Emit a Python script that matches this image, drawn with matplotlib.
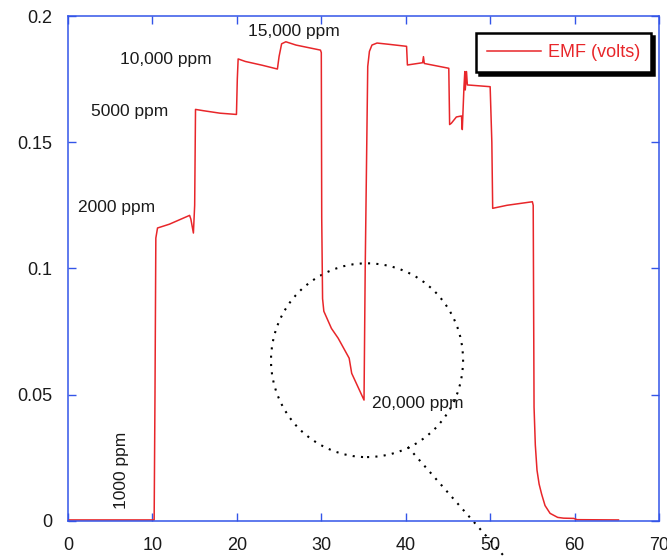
import matplotlib
matplotlib.use("Agg")
import matplotlib.pyplot as plt
from matplotlib.patches import Ellipse
from matplotlib.lines import Line2D

plt.rcParams['font.family'] = ['Liberation Sans', 'DejaVu Sans']

# EMF trace (time in minutes, EMF in volts)
time_min = [0, 10.2, 10.3, 10.4, 10.6, 12, 14.4, 14.55, 14.85, 15.0, 15.1,
            16, 18, 19.95, 20.05, 20.15, 21, 23, 24.8, 25.0, 25.3, 25.8,
            27, 29.9, 30.0, 30.05, 30.15, 30.3, 31.2, 32.0, 33.3, 33.6,
            35.06, 35.2, 35.5, 35.7, 36.0, 36.6, 38, 40.1, 40.2, 42.0,
            42.1, 42.2, 45.1, 45.2, 45.4, 46.0, 46.6, 46.7, 46.9, 47.0,
            47.05, 47.2, 47.3, 50.0, 50.2, 50.3, 52, 55.0, 55.1, 55.2,
            55.35, 55.55, 55.8, 56.1, 56.5, 57.1, 58.0, 58.7, 59.9, 60.3,
            65.2]
emf_volts = [0.0003, 0.0003, 0.05, 0.112, 0.116, 0.1175, 0.121, 0.1195,
             0.114, 0.125, 0.163, 0.1625, 0.1615, 0.161, 0.175, 0.183,
             0.182, 0.1805, 0.179, 0.184, 0.189, 0.1898, 0.1885, 0.1865,
             0.1855, 0.12, 0.088, 0.083, 0.0762, 0.0723, 0.0644, 0.0584,
             0.0478, 0.10, 0.18, 0.186, 0.1885, 0.1893, 0.1888, 0.188,
             0.1806, 0.1815, 0.1839, 0.1812, 0.1793, 0.157, 0.1575, 0.160,
             0.1604, 0.155, 0.172, 0.178, 0.1707, 0.178, 0.1727, 0.172,
             0.150, 0.1238, 0.125, 0.1264, 0.125, 0.045, 0.03, 0.02,
             0.0145, 0.0105, 0.006, 0.0029, 0.0013, 0.001, 0.0009, 0.0004,
             0.0003]

# concentration labels: text, x, y, rotation
conc_labels = ['1000 ppm', '2000 ppm', '5000 ppm', '10,000 ppm',
               '15,000 ppm', '20,000 ppm']
label_x = [6.36, 5.8, 7.34, 11.6, 26.8, 41.45]
label_y = [0.0201, 0.1243, 0.162, 0.1826, 0.1937, 0.0466]
label_rot = [90, 0, 0, 0, 0, 0]

x_ticks = [0, 10, 20, 30, 40, 50, 60, 70]
y_ticks = [0, 0.05, 0.1, 0.15, 0.2]
y_tick_labels = ['0', '0.05', '0.1', '0.15', '0.2']

blue = '#3355e8'
red = '#e8262a'

fig = plt.figure(figsize=(6.67, 5.57), dpi=100)
ax = fig.add_axes([0.102, 0.0652, 0.886, 0.906])

ax.plot(time_min, emf_volts, color=red, lw=1.1, label='EMF (volts)')

for txt, x, y, rot in zip(conc_labels, label_x, label_y, label_rot):
    ax.text(x, y, txt, fontsize=12.5, color='#1a1a1a', ha='center',
            va='center', rotation=rot)

ax.set_xlim(0, 70)
ax.set_ylim(0, 0.2)
ax.set_xticks(x_ticks)
ax.set_xticklabels([str(t) for t in x_ticks])
ax.set_yticks(y_ticks)
ax.set_yticklabels(y_tick_labels)
ax.tick_params(direction='in', top=True, right=True, length=6, width=1,
               color=blue, labelsize=13, labelcolor='#1a1a1a', pad=11.5)
for sp in ax.spines.values():
    sp.set_color(blue)
    sp.set_linewidth(1.1)

# dotted circle round the 20,000 ppm dip, with a leader line off the bottom
ring = Ellipse((0.506, 0.318), 0.325, 0.384, transform=ax.transAxes,
               facecolor='none', edgecolor='black', lw=1.5,
               linestyle=(0, (1, 3)))
ax.add_patch(ring)
leader = Line2D([0.575, 0.739], [0.146, -0.072], transform=ax.transAxes,
                color='black', lw=1.5, linestyle=(0, (1, 3)), clip_on=False)
ax.add_line(leader)

leg = ax.legend(loc='upper right', bbox_to_anchor=(0.986, 0.966),
                borderaxespad=0, fontsize=13, handlelength=3.0,
                handletextpad=0.35, borderpad=0.6, fancybox=False,
                framealpha=1, shadow={'color': 'black', 'alpha': 1})
leg.get_frame().set_edgecolor('black')
leg.get_frame().set_linewidth(1.8)
for t in leg.get_texts():
    t.set_color(red)

fig.savefig('out.png', dpi=100)
